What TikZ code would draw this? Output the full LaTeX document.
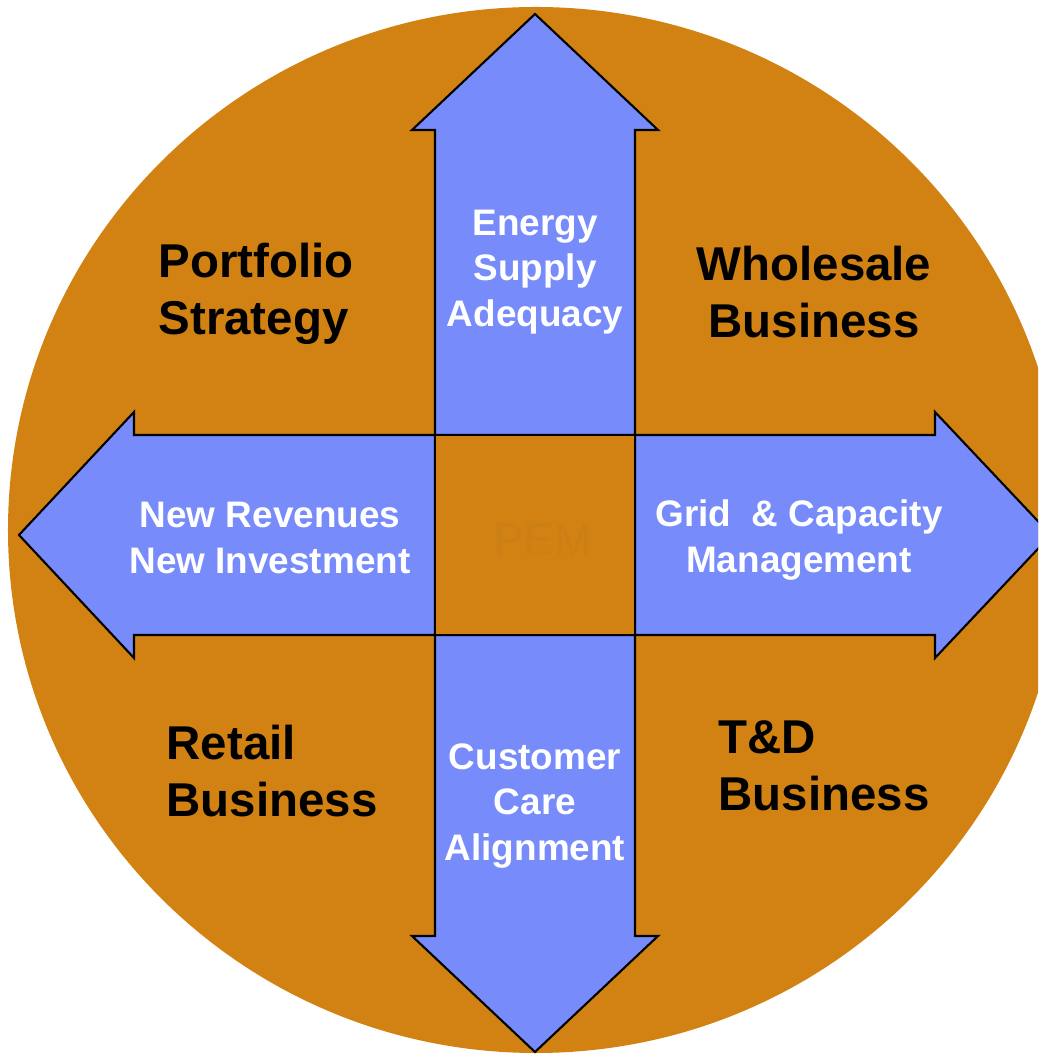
\documentclass[tikz,border=0pt]{standalone}
\usepackage{fontspec}
\setmainfont{Liberation Sans}
\usepackage{tikz}
\usepackage{xcolor}
\definecolor{vblack}{HTML}{000000}
\definecolor{vorange}{HTML}{D18213}
\definecolor{vblue}{HTML}{788BFA}
\definecolor{vfaint}{HTML}{CC7F15}

\tikzset{
	unit/.style = {font = \fontsize{13.5}{16.2}\selectfont\bfseries, text = vblack, align = left, inner sep = 0pt},
	flow/.style = {font = \fontsize{10.5}{12.9}\selectfont\bfseries, text = white, align = center, inner sep = 0pt},
	shaft/.style = {draw = vblack, fill = vblue, line width = 0.6pt}
}

\begin{document}
\begin{tikzpicture}
	\useasboundingbox (-5.35,-5.19) rectangle (5.03,5.35);
	\clip (-5.35,-5.19) rectangle (5.03,5.35);
	% disc
	\fill[vorange] (0.01,0.05) ellipse [x radius = 5.28, y radius = 5.23];
	% arrows
	\draw[shaft] (-1,1) -- (-1,4.05) -- (-1.23,4.05) -- (0,5.21) -- (1.23,4.05) -- (1,4.05) -- (1,1) -- cycle;
	\draw[shaft] (-1,-1) -- (-1,-4.01) -- (-1.23,-4.01) -- (0,-5.17) -- (1.23,-4.01) -- (1,-4.01) -- (1,-1) -- cycle;
	\draw[shaft] (-1,-1) -- (-4.01,-1) -- (-4.01,-1.23) -- (-5.16,0) -- (-4.01,1.23) -- (-4.01,1) -- (-1,1) -- cycle;
	\draw[shaft] (1,-1) -- (4.00,-1) -- (4.00,-1.23) -- (5.16,0) -- (4.00,1.23) -- (4.00,1) -- (1,1) -- cycle;
	% hub
	\draw[draw = vblack, fill = vorange, line width = 0.6pt] (-1,-1) rectangle (1,1);
	\node[text = vfaint, font = \fontsize{13}{15}\selectfont] (pem) at (0.08,-0.05) {PEM};
	% arrow texts
	\node[flow] (supply) at (0,2.63) {Energy\\Supply\\Adequacy};
	\node[flow] (revenue) at (-2.65,-0.03) {New Revenues\\New Investment};
	\node[flow] (grid) at (2.64,-0.05) {Grid\ \ \& Capacity\\Management};
	\node[flow] (care) at (0,-2.71) {Customer\\Care\\Alignment};
	% quadrant texts
	\node[unit, anchor = west] (portfolio) at (-3.77,2.41) {Portfolio\\Strategy};
	\node[unit, align = center] (wholesale) at (2.79,2.43) {Wholesale\\Business};
	\node[unit, anchor = west] (retail) at (-3.69,-2.36) {Retail\\Business};
	\node[unit, anchor = west] (td) at (1.83,-2.31) {T\&D\\Business};
\end{tikzpicture}
\end{document}
